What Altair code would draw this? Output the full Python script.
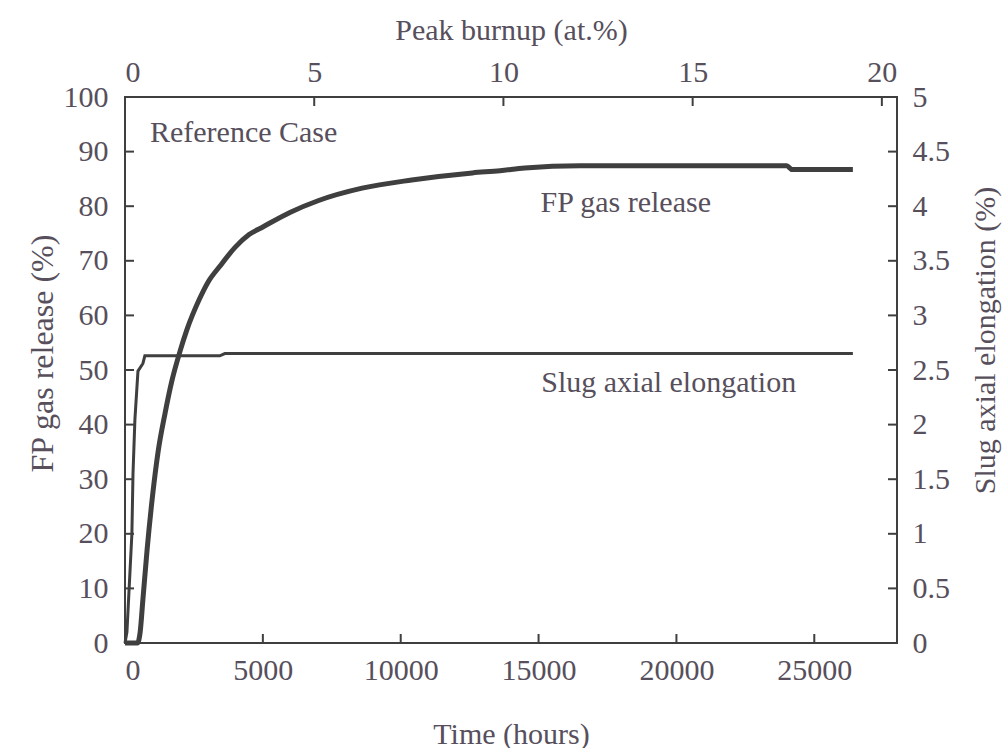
import altair as alt
import pandas as pd

# ---- data ----
fp_time = [0, 450, 550, 650, 800, 1000, 1200, 1450, 1700, 2000, 2240, 2700, 3000, 3440,
           4000, 4500, 5000, 6000, 7000, 8600, 10400, 12600, 13600, 14500, 16500, 24000, 24200, 26400]
fp_release = [0, 0, 2, 8, 17, 27, 35, 42, 48, 53.5, 57.3, 63, 66, 69,
              72.5, 74.8, 76.2, 78.9, 81, 83.3, 84.8, 86.1, 86.5, 87, 87.4, 87.4, 86.7, 86.7]

slug_time = [0, 70, 250, 290, 360, 470, 650, 720, 3440, 3620, 26400]
slug_elong = [0, 0.1, 1.0, 1.55, 2.05, 2.49, 2.56, 2.63, 2.63, 2.65, 2.65]

time_ticks = [0, 5000, 10000, 15000, 20000, 25000]
fp_ticks = [0, 10, 20, 30, 40, 50, 60, 70, 80, 90, 100]
slug_ticks = [0, 0.5, 1, 1.5, 2, 2.5, 3, 3.5, 4, 4.5, 5]
burnup_ticks = [0, 5, 10, 15, 20]

label_text = ["Reference Case", "FP gas release", "Slug axial elongation"]
label_time = [905, 18160, 19720]
label_fp = [93.4, 80.6, 47.6]
label_align = ["left", "center", "center"]

# ---- styling ----
W, H = 772, 546
FONT = "Liberation Serif"
TXT = "#574f5c"
LINE = "#3f3f3f"

df_fp = pd.DataFrame({"t": fp_time, "fp": fp_release})
df_slug = pd.DataFrame({"t": slug_time, "slug": slug_elong})
df_top = pd.DataFrame({"b": burnup_ticks})
df_lab = pd.DataFrame({"text": label_text, "t": label_time, "fp": label_fp, "align": label_align})

xs = alt.Scale(domain=[0, 28000], nice=False)
yl = alt.Scale(domain=[0, 100], nice=False)
yr = alt.Scale(domain=[0, 5], nice=False)
xt = alt.Scale(domain=[0, 20.4], nice=False)

fp_line = alt.Chart(df_fp).mark_line(color=LINE, strokeWidth=5, strokeJoin="round",
                                     interpolate="monotone").encode(
    x=alt.X("t:Q", scale=xs, axis=alt.Axis(title="Time (hours)", values=time_ticks, format="d",
                                          orient="bottom", labelPadding=12, titlePadding=34)),
    y=alt.Y("fp:Q", scale=yl, axis=alt.Axis(title="FP gas release (%)", values=fp_ticks, format="d",
                                           orient="left", labelPadding=17, titleX=-83, titleY=256,
                                           titleFontSize=32,
                                           titleAlign="center", titleBaseline="middle")),
)

slug_line = alt.Chart(df_slug).mark_line(color=LINE, strokeWidth=3).encode(
    x=alt.X("t:Q", scale=xs, axis=None),
    y=alt.Y("slug:Q", scale=yr, axis=alt.Axis(title="Slug axial elongation (%)", values=slug_ticks,
                                             format="~g", orient="right", labelPadding=15,
                                             titleAngle=270, titleX=88, titleY=243,
                                             titleAlign="center", titleBaseline="middle")),
)

top_axis = alt.Chart(df_top).mark_point(opacity=0).encode(
    x=alt.X("b:Q", scale=xt, axis=alt.Axis(title="Peak burnup (at.%)", values=burnup_ticks, format="d",
                                          orient="top", labelPadding=10, titlePadding=12)),
)

tick_l = alt.Chart(pd.DataFrame({"v": fp_ticks[1:-1]})).mark_rule(color=LINE, strokeWidth=2).encode(
    y=alt.Y("v:Q", scale=yl, axis=None), x=alt.value(0), x2=alt.value(9))
tick_r = alt.Chart(pd.DataFrame({"v": slug_ticks[1:-1]})).mark_rule(color=LINE, strokeWidth=2).encode(
    y=alt.Y("v:Q", scale=yr, axis=None), x=alt.value(W - 9), x2=alt.value(W))
tick_b = alt.Chart(pd.DataFrame({"v": time_ticks[1:]})).mark_rule(color=LINE, strokeWidth=2).encode(
    x=alt.X("v:Q", scale=xs, axis=None), y=alt.value(H - 9), y2=alt.value(H))
tick_t = alt.Chart(pd.DataFrame({"v": burnup_ticks[1:]})).mark_rule(color=LINE, strokeWidth=2).encode(
    x=alt.X("v:Q", scale=xt, axis=None), y=alt.value(0), y2=alt.value(9))

lab_left = alt.Chart(df_lab[df_lab["align"] == "left"]).mark_text(
    font=FONT, fontSize=30, color=TXT, align="left", baseline="middle").encode(
    x=alt.X("t:Q", scale=xs, axis=None), y=alt.Y("fp:Q", scale=yl, axis=None), text="text:N")
lab_center = alt.Chart(df_lab[df_lab["align"] == "center"]).mark_text(
    font=FONT, fontSize=30, color=TXT, align="center", baseline="middle").encode(
    x=alt.X("t:Q", scale=xs, axis=None), y=alt.Y("fp:Q", scale=yl, axis=None), text="text:N")

chart = alt.layer(
    tick_l, tick_r, tick_b, tick_t, fp_line, slug_line, top_axis, lab_left, lab_center
).resolve_scale(x="independent", y="independent").properties(
    width=W, height=H,
    autosize=alt.AutoSizeParams(type="none"),
    padding={"left": 125, "top": 97, "right": 105, "bottom": 105},
    background="white",
).configure_axis(
    labelFont=FONT, labelFontSize=30, labelColor=TXT,
    titleFont=FONT, titleFontSize=30, titleColor=TXT, titleFontWeight="normal",
    tickSize=0, domain=False, grid=False,
).configure_view(stroke=LINE, strokeWidth=2)

chart.save("out.html", embed_options={"renderer": "svg", "actions": False})
